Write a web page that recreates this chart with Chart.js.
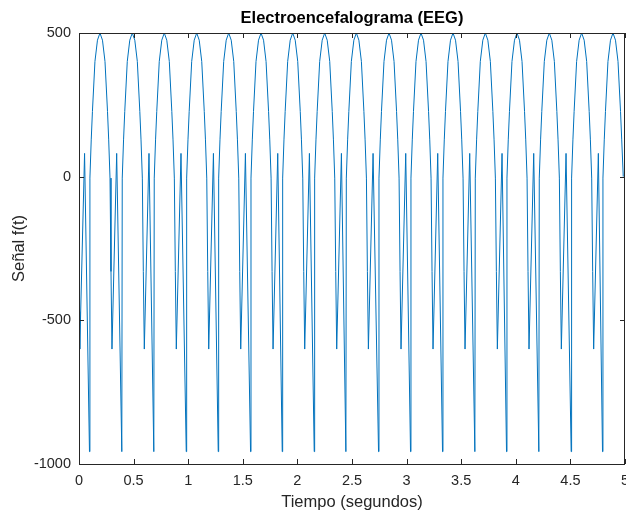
<!DOCTYPE html>
<html>
<head>
<meta charset="utf-8">
<title>Electroencefalograma (EEG)</title>
<script src="https://cdn.jsdelivr.net/npm/chart.js@4.4.1/dist/chart.umd.min.js"></script>
<style>
    html, body { margin: 0; padding: 0; background: #fff; }
    #wrap { width: 626px; height: 514px; }
</style>
</head>
<body>
<div id="wrap"><canvas id="eegChart" width="626" height="514"></canvas></div>
<script>
// tiempo (s) y amplitud de la señal, un ciclo por linea
const tiempo = [
    0.000, 0.007, 0.051,
    0.096, 0.100, 0.112, 0.123, 0.146, 0.169, 0.192, 0.215, 0.238, 0.261, 0.272, 0.284, 0.293, 0.302, 0.345,
    0.392, 0.396, 0.408, 0.419, 0.442, 0.465, 0.488, 0.511, 0.534, 0.557, 0.568, 0.580, 0.589, 0.598, 0.641,
    0.685, 0.689, 0.701, 0.712, 0.735, 0.758, 0.781, 0.804, 0.827, 0.850, 0.861, 0.873, 0.882, 0.891, 0.934,
    0.982, 0.986, 0.998, 1.009, 1.032, 1.055, 1.078, 1.101, 1.124, 1.147, 1.158, 1.170, 1.179, 1.188, 1.231,
    1.275, 1.279, 1.291, 1.302, 1.325, 1.348, 1.371, 1.394, 1.417, 1.440, 1.451, 1.463, 1.472, 1.481, 1.524,
    1.571, 1.575, 1.587, 1.598, 1.621, 1.644, 1.667, 1.690, 1.713, 1.736, 1.747, 1.759, 1.768, 1.777, 1.820,
    1.861, 1.865, 1.877, 1.888, 1.911, 1.934, 1.957, 1.980, 2.003, 2.026, 2.037, 2.049, 2.058, 2.067, 2.110,
    2.154, 2.158, 2.170, 2.181, 2.204, 2.227, 2.250, 2.273, 2.296, 2.319, 2.330, 2.342, 2.351, 2.360, 2.403,
    2.444, 2.448, 2.460, 2.471, 2.494, 2.517, 2.540, 2.563, 2.586, 2.609, 2.620, 2.632, 2.641, 2.650, 2.693,
    2.743, 2.747, 2.759, 2.770, 2.793, 2.816, 2.839, 2.862, 2.885, 2.908, 2.919, 2.931, 2.940, 2.949, 2.992,
    3.036, 3.040, 3.052, 3.063, 3.086, 3.109, 3.132, 3.155, 3.178, 3.201, 3.212, 3.224, 3.233, 3.242, 3.285,
    3.329, 3.333, 3.345, 3.356, 3.379, 3.402, 3.425, 3.448, 3.471, 3.494, 3.505, 3.517, 3.526, 3.535, 3.578,
    3.625, 3.629, 3.641, 3.652, 3.675, 3.698, 3.721, 3.744, 3.767, 3.790, 3.801, 3.813, 3.822, 3.831, 3.874,
    3.915, 3.919, 3.931, 3.942, 3.965, 3.988, 4.011, 4.034, 4.057, 4.080, 4.091, 4.103, 4.112, 4.121, 4.164,
    4.211, 4.215, 4.227, 4.238, 4.261, 4.284, 4.307, 4.330, 4.353, 4.376, 4.387, 4.399, 4.408, 4.417, 4.460,
    4.507, 4.511, 4.523, 4.534, 4.557, 4.580, 4.603, 4.626, 4.649, 4.672, 4.683, 4.695, 4.704, 4.713, 4.756,
    4.794, 4.798, 4.810, 4.821, 4.844, 4.867, 4.890, 4.913, 4.936, 4.959, 4.970, 4.984
];

const senal = [
    -470, -600, 81,
    -957, -5, 128, 227, 401, 475, 500, 475, 401, 227, 128, -5, -330, -600, 81,
    -957, -5, 128, 227, 401, 475, 500, 475, 401, 227, 128, -5, -330, -600, 81,
    -957, -5, 128, 227, 401, 475, 500, 475, 401, 227, 128, -5, -330, -600, 81,
    -957, -5, 128, 227, 401, 475, 500, 475, 401, 227, 128, -5, -330, -600, 81,
    -957, -5, 128, 227, 401, 475, 500, 475, 401, 227, 128, -5, -330, -600, 81,
    -957, -5, 128, 227, 401, 475, 500, 475, 401, 227, 128, -5, -330, -600, 81,
    -957, -5, 128, 227, 401, 475, 500, 475, 401, 227, 128, -5, -330, -600, 81,
    -957, -5, 128, 227, 401, 475, 500, 475, 401, 227, 128, -5, -330, -600, 81,
    -957, -5, 128, 227, 401, 475, 500, 475, 401, 227, 128, -5, -330, -600, 81,
    -957, -5, 128, 227, 401, 475, 500, 475, 401, 227, 128, -5, -330, -600, 81,
    -957, -5, 128, 227, 401, 475, 500, 475, 401, 227, 128, -5, -330, -600, 81,
    -957, -5, 128, 227, 401, 475, 500, 475, 401, 227, 128, -5, -330, -600, 81,
    -957, -5, 128, 227, 401, 475, 500, 475, 401, 227, 128, -5, -330, -600, 81,
    -957, -5, 128, 227, 401, 475, 500, 475, 401, 227, 128, -5, -330, -600, 81,
    -957, -5, 128, 227, 401, 475, 500, 475, 401, 227, 128, -5, -330, -600, 81,
    -957, -5, 128, 227, 401, 475, 500, 475, 401, 227, 128, -5, -330, -600, 81,
    -957, -5, 128, 227, 401, 475, 500, 475, 401, 227, 128, 0
];

const ticksX = [0, 0.5, 1, 1.5, 2, 2.5, 3, 3.5, 4, 4.5, 5];
const ticksY = [-1000, -500, 0, 500];

const FONT = '"Liberation Sans", Arial, Helvetica, sans-serif';
const AXIS_COLOR = '#262626';

// caja completa con marcas hacia adentro en los cuatro lados
const boxPlugin = {
    id: 'boxPlugin',
    afterDraw(chart) {
        const { ctx, chartArea: a, scales } = chart;
        const len = 5;
        ctx.save();
        ctx.strokeStyle = AXIS_COLOR;
        ctx.lineWidth = 1;
        ctx.beginPath();
        ctx.rect(Math.round(a.left) + 0.5, Math.round(a.top) + 0.5,
                 Math.round(a.right - a.left) - 1, Math.round(a.bottom - a.top));
        ticksX.forEach(v => {
            const x = Math.round(scales.x.getPixelForValue(v)) + 0.5;
            ctx.moveTo(x, a.bottom); ctx.lineTo(x, a.bottom - len);
            ctx.moveTo(x, a.top); ctx.lineTo(x, a.top + len);
        });
        ticksY.forEach(v => {
            const y = Math.round(scales.y.getPixelForValue(v)) + 0.5;
            ctx.moveTo(a.left, y); ctx.lineTo(a.left + len, y);
            ctx.moveTo(a.right, y); ctx.lineTo(a.right - len, y);
        });
        ctx.stroke();
        ctx.restore();
    }
};

document.addEventListener("DOMContentLoaded", function () {
    const ctx = document.getElementById('eegChart').getContext('2d');
    const puntos = tiempo.map((t, i) => ({ x: t, y: senal[i] }));

    new Chart(ctx, {
        type: 'line',
        data: {
            datasets: [{
                data: puntos,
                borderColor: '#0072BD',
                borderWidth: 1,
                pointRadius: 0,
                tension: 0,
                fill: false
            }]
        },
        options: {
            responsive: false,
            animation: false,
            layout: { padding: { left: 0, top: 0, right: 1, bottom: 0 } },
            plugins: {
                legend: { display: false },
                tooltip: { enabled: false },
                title: {
                    display: true,
                    text: 'Electroencefalograma (EEG)',
                    fullSize: false,
                    color: '#000',
                    font: { family: FONT, size: 16.5, weight: 'bold' },
                    padding: { top: 9, bottom: 4.2 }
                }
            },
            scales: {
                x: {
                    type: 'linear',
                    min: 0,
                    max: 5,
                    afterBuildTicks: s => { s.ticks = ticksX.map(v => ({ value: v })); },
                    afterFit: s => { s.height = 50; s.paddingLeft = 0; s.paddingRight = 0; },
                    grid: { display: false, drawTicks: false },
                    border: { display: false },
                    ticks: {
                        autoSkip: false,
                        maxRotation: 0,
                        padding: 8,
                        color: AXIS_COLOR,
                        font: { family: FONT, size: 14.5 },
                        callback: v => String(v)
                    },
                    title: {
                        display: true,
                        text: 'Tiempo (segundos)',
                        color: AXIS_COLOR,
                        font: { family: FONT, size: 16.5 },
                        padding: { top: 0, bottom: 2 }
                    }
                },
                y: {
                    type: 'linear',
                    min: -1000,
                    max: 500,
                    afterBuildTicks: s => { s.ticks = ticksY.map(v => ({ value: v })); },
                    afterFit: s => { s.width = 79; s.paddingTop = 0; s.paddingBottom = 0; },
                    grid: { display: false, drawTicks: false },
                    border: { display: false },
                    ticks: {
                        padding: 8,
                        color: AXIS_COLOR,
                        font: { family: FONT, size: 14.5 },
                        callback: v => String(v)
                    },
                    title: {
                        display: true,
                        text: 'Señal f(t)',
                        color: AXIS_COLOR,
                        font: { family: FONT, size: 16.5 },
                        padding: { top: 10, bottom: 0 }
                    }
                }
            }
        },
        plugins: [boxPlugin]
    });
});
</script>
</body>
</html>
